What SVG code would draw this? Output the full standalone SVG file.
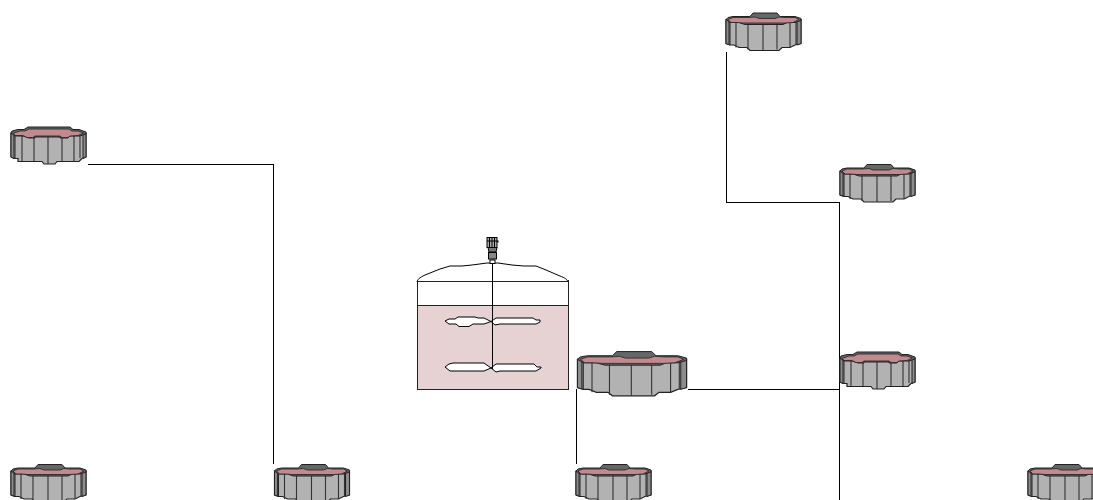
<svg xmlns="http://www.w3.org/2000/svg" width="1093" height="500" viewBox="0 0 1093 500">
<style>
.ln{fill:none;stroke:#000;stroke-width:1;shape-rendering:crispEdges}
.body{fill:#b2b2b2;stroke:#222;stroke-width:1.2;vector-effect:non-scaling-stroke}
.top{fill:#666;stroke:#222;stroke-width:1;vector-effect:non-scaling-stroke}
.pink{fill:#c08a8e;stroke:#222;stroke-width:.8;vector-effect:non-scaling-stroke}
.side{fill:#8c8c8c;stroke:#222;stroke-width:1;vector-effect:non-scaling-stroke}
.rib{fill:none;stroke:#333;stroke-width:1.1;vector-effect:non-scaling-stroke}
.imp{fill:#fff;stroke:#000;stroke-width:1}
.v{stroke:#000;stroke-width:1}
</style>
<defs>
<g id="tankA">
<path class="body" d="M1,7V31L4,32.5H8V35.5H32L34,38H45L47,35.5H69L72,32.5L76,31V7Z"/>
<path class="side" d="M1,7V31L4,32.5V7ZM76,7V31L73,32.5V7Z"/>
<path class="rib" d="M5,8V32M12,10V35M24,11V35M38,11V38M52,11V35M64,10V35M70,8V32"/>
<path class="top" d="M1,7L2,5L8,3.5L14,3.5L18,1H60L63,3.5L69,3.5L76,6V8L70,10H60L58,12H50V11H25V12H19L13,10H5Z"/>
<path class="pink" d="M3.3,7.3L10,5L15,5L19,3H59L62,5H68L73.5,7L68,9.5L60,10L58,11.5H52L50,10H25L23,11.5H17L13,9.5H5Z"/>
</g>
<g id="tankB">
<path class="body" d="M1,7V31L5,32.5H9L14,35H22L25,38H54L57,35H65L70,32.5L76,31V7Z"/>
<path class="side" d="M1,7V31L5,32.5V7ZM76,7V31L72,32.5V7Z"/>
<path class="rib" d="M4,8V32M11,10V35M23,12V37M38,12V38M52,12V37M65,10V35M71,8V32"/>
<path class="top" d="M1,7L3,5L8,4H25L28,0.5H52L55,4H70L76,6V8L70,10H62L58,12H20L14,10H5Z"/>
<path class="pink" d="M3,7L8,5H24L30,4.5L34,6H50L54,4.5L60,5H70L74,7L68,10L60,10.5H18L12,10H6Z"/>
</g>
</defs>
<g id="connectors">
<path class="ln" d="M87.5,164.5H273.500V464"/>
<path class="ln" d="M726.500,52V202.500H839.500V500"/>
<path class="ln" d="M688,389.500H839"/>
<path class="ln" d="M576.500,389V464"/>
</g>
<g id="vessel">
<rect x="417" y="305" width="151" height="84" fill="#e6d2d2"/>
<path d="M417,282C418,279 419,278 425,275L440,269L450,266H462L472,265L487,263H498L512,265L524,266H536L546,270L560,276C565,278 567,279 568,282" fill="#fff" stroke="#000"/>
<path d="M417.500,280V389.500H568.500V280M417,281.500H568M417,305.500H568" fill="none" stroke="#222" shape-rendering="crispEdges"/>
<path class="imp" d="M445,321L449,319H455L458,317H475L478,318H484L491,321.500L484,324H473L469,326.500H459L456,324H449Z"/>
<path class="imp" d="M491,321.500L496,318H533L536,320H540V322L536,324H500L495,325Z"/>
<path class="imp" d="M445,367L449,364L453,363H484L491,368L484,371H455L450,371Z"/>
<path class="imp" d="M491,368L496,364H534L537,367H541V368L536,371H500L496,372Z"/>
<path class="v" d="M492.500,262V369" fill="none"/>
</g>
<g id="motor">
<rect x="490" y="260" width="5" height="3.500" fill="#fff" stroke="#000"/>
<rect x="488.500" y="252.500" width="8" height="6.500" fill="#888" stroke="#000"/>
<rect x="487" y="237.500" width="10" height="10" fill="#aaa" stroke="#000"/>
<path d="M487,241H497M489.500,238V247M492,238V247M494.500,238V247" stroke="#000" fill="none"/>
<path d="M488,247.500L489,252H496L497,247.500Z" fill="#777" stroke="#000"/>
<rect x="497" y="240.500" width="1.500" height="2" fill="#000"/>
</g>
<g id="tank1"><use href="#tankA" x="10" y="126"/></g>
<g id="tank2"><use href="#tankB" x="725" y="12.500"/></g>
<g id="tank3"><use href="#tankB" x="839" y="164"/></g>
<g id="tank4"><use href="#tankA" x="839" y="351"/></g>
<g id="tank5"><use href="#tankB" transform="translate(576,351) scale(1.455,1.18)"/></g>
<g id="tank6"><use href="#tankB" x="10" y="464"/></g>
<g id="tank7"><use href="#tankB" x="273.500" y="464"/></g>
<g id="tank8"><use href="#tankB" x="575" y="464"/></g>
<g id="tank9"><use href="#tankB" x="1027" y="464"/></g>
</svg>
